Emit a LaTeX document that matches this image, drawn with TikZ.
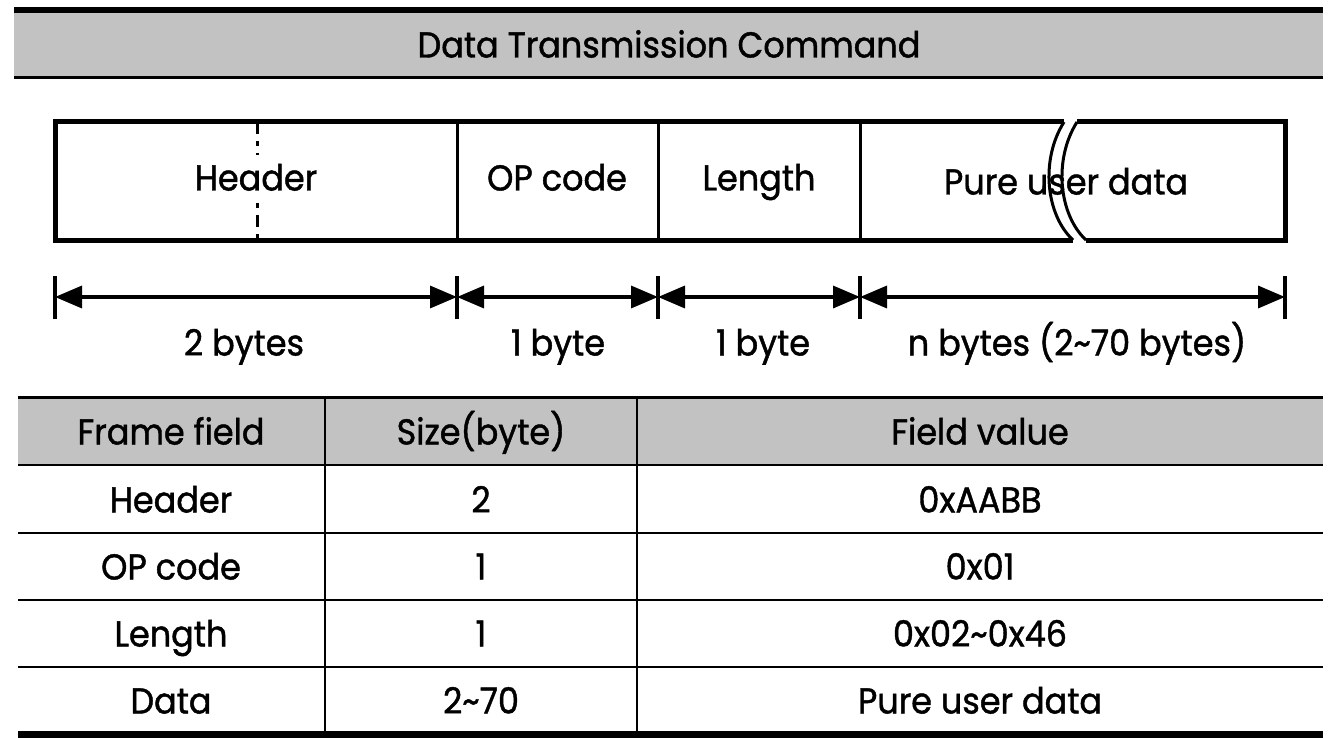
\documentclass[tikz,border=0pt]{standalone}
\usepackage{fontspec}
\setmainfont[FakeStretch=0.93,FakeBold=1.2]{Poppins}
\usetikzlibrary{arrows.meta}
\begin{document}
\begin{tikzpicture}[x=1pt,y=-1pt,
  txt/.style={inner sep=0pt, text height=25pt, text depth=0pt, font=\fontsize{36}{40}\selectfont},
  halftone/.style={fill=black!24},
  frameline/.style={line width=5pt, line join=miter},
  divline/.style={line width=3pt},
  tline/.style={line width=2pt},
  tickline/.style={line width=4.5pt},
  dim/.style={line width=3.5pt, {Triangle[length=27pt,width=22pt]}-{Triangle[length=27pt,width=22pt]}},
  dashdot/.style={line width=3pt, dash pattern=on 12pt off 7pt on 5pt off 7pt}
]
\useasboundingbox (0,0) rectangle (1338,738);

% ---------- banner ----------
\fill[halftone] (14,10) rectangle (1323,78);
\draw[line width=6pt] (14,10) -- (1323,10);
\draw[line width=3pt] (14,78) -- (1323,78);
\node[txt] (title) at (669,45) {Data Transmission Command};

% ---------- frame ----------
\draw[dashdot] (257,122) -- (257,240);
\draw[frameline] (1064,122) -- (55,122) -- (55,240) -- (1073,240);
\draw[frameline] (1077,122) -- (1285,122) -- (1285,240) -- (1086,240);
\draw[divline] (457,122) -- (457,240);
\draw[divline] (658,122) -- (658,240);
\draw[divline] (860,122) -- (860,240);
\node[txt, fill=white, inner ysep=10pt, inner xsep=2pt] (fhdr) at (256,178) {Header};
\node[txt] (fop) at (557,178) {OP code};
\node[txt] (flen) at (759,178) {Length};
\node[txt] (fdata) at (1066,182) {Pure user data};
\draw[divline] (1064,122) .. controls (1040,160) and (1046,215) .. (1073,240);
\draw[divline] (1077,122) .. controls (1053,160) and (1059,215) .. (1086,240);

% ---------- dimension arrows ----------
\coordinate (a0) at (55,297);
\coordinate (a1) at (457,297);
\coordinate (a2) at (658,297);
\coordinate (a3) at (860,297);
\coordinate (a4) at (1285,297);
\foreach \c in {a0,a1,a2,a3,a4}
  \draw[tickline] ([yshift=-22pt]\c) -- ([yshift=21pt]\c);
\draw[dim] (a0) -- (a1);
\draw[dim] (a1) -- (a2);
\draw[dim] (a2) -- (a3);
\draw[dim] (a3) -- (a4);
\node[txt] (l0) at (244,343) {2 bytes};
\node[txt] (l1) at (558,343) {1 byte};
\node[txt] (l2) at (763,343) {1 byte};
\node[txt] (l3) at (1077,343) {n bytes (2\textasciitilde70 bytes)};

% ---------- table ----------
\fill[halftone] (18,397) rectangle (1323,465);
\draw[line width=3pt] (18,397) -- (1323,397);
\draw[tline] (18,465) -- (1323,465);
\draw[tline] (18,533) -- (1323,533);
\draw[tline] (18,600) -- (1323,600);
\draw[tline] (18,667) -- (1323,667);
\draw[line width=7pt] (18,734.5) -- (1323,734.5);
\draw[tline] (325,397) -- (325,731);
\draw[tline] (637,397) -- (637,731);

\node[txt] (h1) at (171,432) {Frame field};
\node[txt] (h2) at (481,432) {Size(byte)};
\node[txt] (h3) at (980,432) {Field value};

\node[txt] (r1a) at (171,500) {Header};
\node[txt] (r1b) at (481,500) {2};
\node[txt] (r1c) at (980,500) {0xAABB};

\node[txt] (r2a) at (171,567) {OP code};
\node[txt] (r2b) at (481,567) {1};
\node[txt] (r2c) at (980,567) {0x01};

\node[txt] (r3a) at (171,634) {Length};
\node[txt] (r3b) at (481,634) {1};
\node[txt] (r3c) at (980,634) {0x02\textasciitilde 0x46};

\node[txt] (r4a) at (171,701) {Data};
\node[txt] (r4b) at (481,701) {2\textasciitilde 70};
\node[txt] (r4c) at (980,701) {Pure user data};
\end{tikzpicture}
\end{document}
